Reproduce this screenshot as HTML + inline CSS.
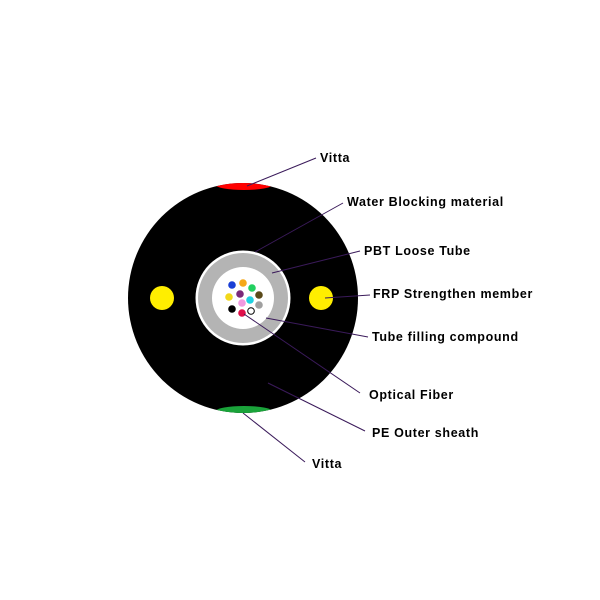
<!DOCTYPE html>
<html><head><meta charset="utf-8"><style>
html,body{margin:0;padding:0;background:#fff;}
svg{display:block;}
text{font-family:"Liberation Sans",sans-serif;font-weight:bold;font-size:12.5px;fill:#000;letter-spacing:0.65px;}
line{stroke:#3a1a5a;stroke-width:1;}
</style></head><body>
<svg width="600" height="600" viewBox="0 0 600 600">
<rect width="600" height="600" fill="#fff"/>
<circle cx="243" cy="298" r="115" fill="#000"/>
<clipPath id="c"><circle cx="243" cy="298" r="115"/></clipPath>
<g clip-path="url(#c)">
<ellipse cx="244" cy="185" rx="28" ry="5" fill="#f00"/>
<ellipse cx="244" cy="411" rx="28" ry="5" fill="#1aa33a"/>
</g>
<circle cx="162" cy="298" r="12" fill="#ffee00"/>
<circle cx="321" cy="298" r="12" fill="#ffee00"/>
<circle cx="243" cy="298" r="47.5" fill="#fff"/>
<circle cx="243" cy="298" r="45" fill="#b4b4b4"/>
<circle cx="243" cy="298" r="31" fill="#fff"/>
<g>
<circle cx="232" cy="285" r="3.8" fill="#1a3fd6"/>
<circle cx="243" cy="283" r="3.8" fill="#f5a81a"/>
<circle cx="252" cy="288" r="3.8" fill="#22d060"/>
<circle cx="229" cy="297" r="3.8" fill="#f2d81a"/>
<circle cx="240" cy="294" r="3.8" fill="#7a2a7a"/>
<circle cx="259" cy="295" r="3.8" fill="#5a4a1a"/>
<circle cx="242" cy="303" r="3.8" fill="#f09ae0"/>
<circle cx="250" cy="300" r="3.8" fill="#20d0e0"/>
<circle cx="259" cy="305" r="3.8" fill="#a0a0a0"/>
<circle cx="232" cy="309" r="3.8" fill="#000"/>
<circle cx="242" cy="313" r="3.8" fill="#e0104a"/>
<circle cx="251" cy="311" r="3.3" fill="#fff" stroke="#000" stroke-width="1"/>
</g>
<line x1="247" y1="186" x2="316" y2="158"/>
<line x1="255" y1="252" x2="343" y2="203"/>
<line x1="272" y1="273" x2="360" y2="251"/>
<line x1="325" y1="298" x2="370" y2="295"/>
<line x1="266" y1="318" x2="368" y2="337"/>
<line x1="244" y1="314" x2="360" y2="393"/>
<line x1="268" y1="383" x2="365" y2="431"/>
<line x1="243" y1="413" x2="305" y2="462"/>
<text x="320" y="162">Vitta</text>
<text x="347" y="206">Water Blocking material</text>
<text x="364" y="255">PBT Loose Tube</text>
<text x="373" y="298">FRP Strengthen member</text>
<text x="372" y="341">Tube filling compound</text>
<text x="369" y="399">Optical Fiber</text>
<text x="372" y="437">PE Outer sheath</text>
<text x="312" y="468">Vitta</text>
</svg>
</body></html>
